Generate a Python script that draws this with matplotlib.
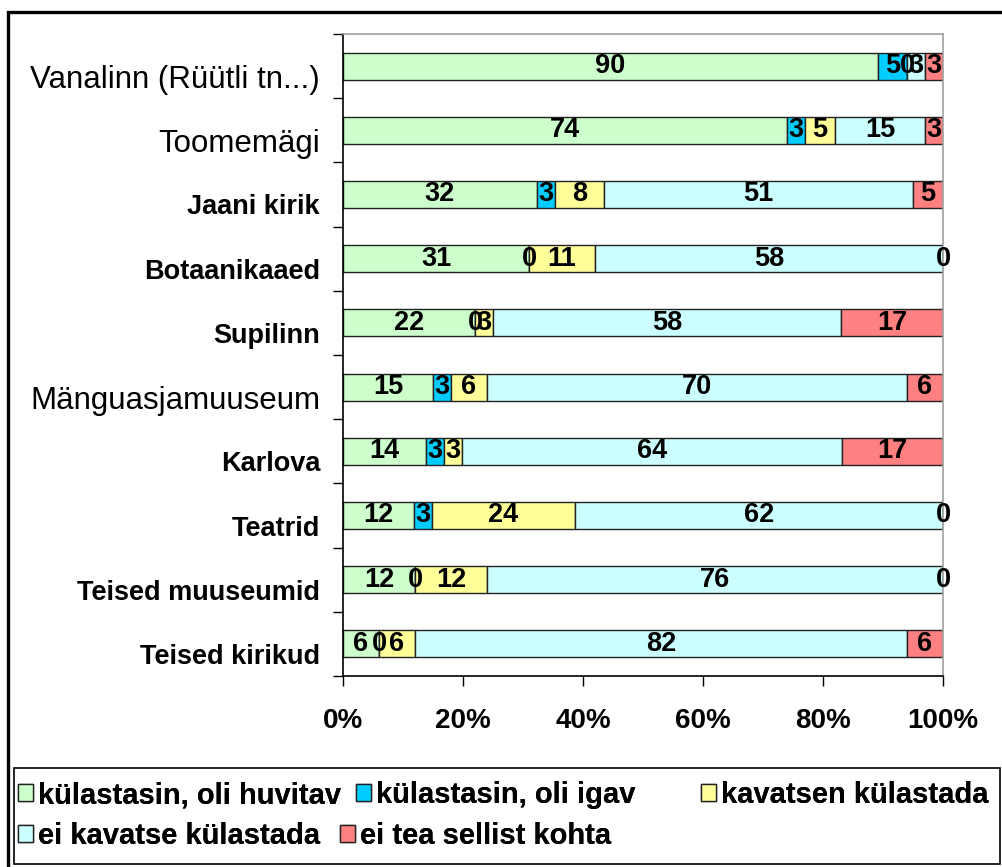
import matplotlib
matplotlib.use('Agg')
import matplotlib.pyplot as plt
import matplotlib.transforms as mtransforms
from matplotlib.patches import Rectangle, Patch
import numpy as np

places = ['Vanalinn (Rüütli tn...)', 'Toomemägi', 'Jaani kirik', 'Botaanikaaed',
          'Supilinn', 'Mänguasjamuuseum', 'Karlova', 'Teatrid',
          'Teised muuseumid', 'Teised kirikud']
huvitav = [90, 74, 32, 31, 22, 15, 14, 12, 12, 6]
igav = [5, 3, 3, 0, 0, 3, 3, 3, 0, 0]
kavatsen = [0, 5, 8, 11, 3, 6, 3, 24, 12, 6]
ei_kavatse = [3, 15, 51, 58, 58, 70, 64, 62, 76, 82]
ei_tea = [3, 3, 5, 0, 17, 6, 17, 0, 0, 6]

series_names = ['külastasin, oli huvitav', 'külastasin, oli igav', 'kavatsen külastada',
                'ei kavatse külastada', 'ei tea sellist kohta']
colors = ['#CCFFCC', '#00CCFF', '#FFFF99', '#CCFFFF', '#FF8080']
thin_labels = ['Vanalinn (Rüütli tn...)', 'Toomemägi', 'Mänguasjamuuseum']

plt.rcParams['font.family'] = ['Liberation Sans', 'DejaVu Sans']

W, H = 1002, 867
fig = plt.figure(figsize=(W / 100, H / 100), dpi=100)
ax = fig.add_axes([343 / W, 1 - 676 / H, 600 / W, 642 / H])

data = np.array([huvitav, igav, kavatsen, ei_kavatse, ei_tea], dtype=float)
pct = data / data.sum(axis=0) * 100
y = np.arange(len(places))

left = np.zeros(len(places))
for i in range(len(series_names)):
    bars = ax.barh(y, pct[i], left=left, height=0.42, color=colors[i],
                   edgecolor='#222222', linewidth=1.0, label=series_names[i])
    ax.bar_label(bars, labels=[str(int(v)) for v in data[i]], label_type='center',
                 fontsize=19.5, fontweight='bold', color='black')
    left += pct[i]

ax.set_xlim(0, 100)
ax.set_ylim(len(places) - 0.5, -0.5)
ax.set_xticks(np.arange(0, 101, 20))
ax.set_xticklabels([f'{v}%' for v in range(0, 101, 20)], fontsize=20, fontweight='bold')
ax.tick_params(axis='x', length=7, width=1, pad=16, direction='out')

ax.set_yticks(y)
ax.set_yticklabels(places, fontsize=19.5, fontweight='bold')
ax.set_yticks(np.arange(-0.5, len(places)), minor=True)
ax.tick_params(axis='y', which='major', length=0, pad=16.5)
ax.tick_params(axis='y', which='minor', length=7, width=1, direction='out')

# category names sit a little below the bar centres in the original
offset = mtransforms.ScaledTranslation(0, -10 / 100, fig.dpi_scale_trans)
for lab in ax.get_yticklabels():
    lab.set_transform(lab.get_transform() + offset)
    if lab.get_text() in thin_labels:
        lab.set_fontweight('normal')
        lab.set_fontsize(22.5)

for s in ['left', 'bottom']:
    ax.spines[s].set_color('black')
    ax.spines[s].set_linewidth(1.2)
for s in ['top', 'right']:
    ax.spines[s].set_color('#A0A0A0')
    ax.spines[s].set_linewidth(1.2)

# outer frame and legend box
fig.add_artist(Rectangle((8 / W, -0.05), 1.1, 1 - 12 / H + 0.05, transform=fig.transFigure,
                         fill=False, edgecolor='black', linewidth=2.4))
fig.add_artist(Rectangle((14 / W, 1 - 864 / H), (1000 - 14) / W, (864 - 768) / H,
                         transform=fig.transFigure, fill=False, edgecolor='black', linewidth=1.2))

legend_pos = [(18, 795), (356, 795), (701, 795), (18, 836), (340, 836)]
for i, (px, py) in enumerate(legend_pos):
    h = Patch(facecolor=colors[i], edgecolor='#222222', linewidth=1.0)
    leg = fig.legend([h], [series_names[i]], loc='center left',
                     bbox_to_anchor=(px / W, 1 - py / H), frameon=False,
                     borderpad=0, borderaxespad=0, handlelength=0.5, handleheight=0.5,
                     handletextpad=0.2,
                     prop={'weight': 'bold', 'size': 21})
    fig.add_artist(leg)

fig.savefig('out.png', dpi=100)
